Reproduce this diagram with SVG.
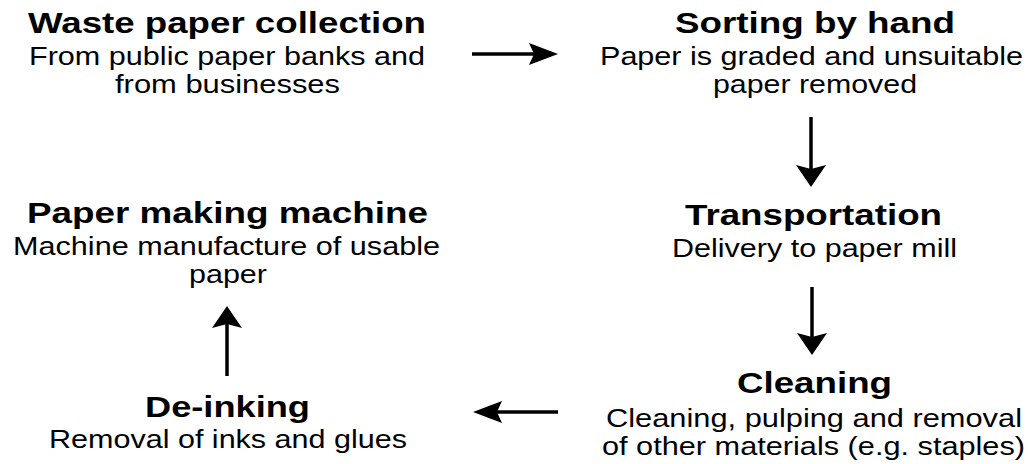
<svg xmlns="http://www.w3.org/2000/svg" width="1028" height="464" viewBox="0 0 1028 464">
<defs>
<style>
.t{font-family:"Liberation Sans",Arial,Helvetica,sans-serif;font-weight:bold;font-size:29px;fill:#000;text-anchor:middle}
.s{font-family:"Liberation Sans",Arial,Helvetica,sans-serif;font-size:25px;fill:#000;text-anchor:middle}
.c{stroke:#000;stroke-width:3.5;fill:none}
</style>
<marker id="mh" viewBox="0 0 29 22" markerWidth="29" markerHeight="22" refX="5" refY="11" orient="auto" markerUnits="userSpaceOnUse"><path d="M0,0 L29,11 L0,22 L5,11 Z" fill="#000"/></marker>
<marker id="mv" viewBox="0 0 22 30" markerWidth="22" markerHeight="30" refX="4" refY="15" orient="auto" markerUnits="userSpaceOnUse"><path d="M0,0 L22,15 L0,30 L4,15 Z" fill="#000"/></marker>
</defs>
<rect width="1028" height="464" fill="#fff"/>
<g id="collection">
<text class="t" x="227" y="33" textLength="398" lengthAdjust="spacingAndGlyphs">Waste paper collection</text>
<text class="s" x="227" y="65" textLength="396" lengthAdjust="spacingAndGlyphs">From public paper banks and</text>
<text class="s" x="227.5" y="93" textLength="225" lengthAdjust="spacingAndGlyphs">from businesses</text>
</g>
<g id="sorting">
<text class="t" x="815" y="33" textLength="280" lengthAdjust="spacingAndGlyphs">Sorting by hand</text>
<text class="s" x="811.5" y="65" textLength="423" lengthAdjust="spacingAndGlyphs">Paper is graded and unsuitable</text>
<text class="s" x="815" y="93" textLength="204" lengthAdjust="spacingAndGlyphs">paper removed</text>
</g>
<g id="transportation">
<text class="t" x="813.5" y="225" textLength="257" lengthAdjust="spacingAndGlyphs">Transportation</text>
<text class="s" x="814.5" y="257" textLength="285" lengthAdjust="spacingAndGlyphs">Delivery to paper mill</text>
</g>
<g id="cleaning">
<text class="t" x="814.5" y="393" textLength="155" lengthAdjust="spacingAndGlyphs">Cleaning</text>
<text class="s" x="814" y="427" textLength="416" lengthAdjust="spacingAndGlyphs">Cleaning, pulping and removal</text>
<text class="s" x="813.5" y="455" textLength="423" lengthAdjust="spacingAndGlyphs">of other materials (e.g. staples)</text>
</g>
<g id="deinking">
<text class="t" x="227.5" y="417" textLength="165" lengthAdjust="spacingAndGlyphs">De-inking</text>
<text class="s" x="228" y="448" textLength="358" lengthAdjust="spacingAndGlyphs">Removal of inks and glues</text>
</g>
<g id="papermaking">
<text class="t" x="227.5" y="223" textLength="401" lengthAdjust="spacingAndGlyphs">Paper making machine</text>
<text class="s" x="226.5" y="255" textLength="427" lengthAdjust="spacingAndGlyphs">Machine manufacture of usable</text>
<text class="s" x="228" y="283" textLength="78" lengthAdjust="spacingAndGlyphs">paper</text>
</g>
<g id="connectors">
<line class="c" x1="472" y1="54" x2="534" y2="54" marker-end="url(#mh)"/>
<line class="c" x1="811" y1="117" x2="811" y2="169" marker-end="url(#mv)"/>
<line class="c" x1="812" y1="287" x2="812" y2="337" marker-end="url(#mv)"/>
<line class="c" x1="558" y1="412" x2="497" y2="412" marker-end="url(#mh)"/>
<line class="c" x1="227" y1="376" x2="227" y2="324" marker-end="url(#mv)"/>
</g>
</svg>
